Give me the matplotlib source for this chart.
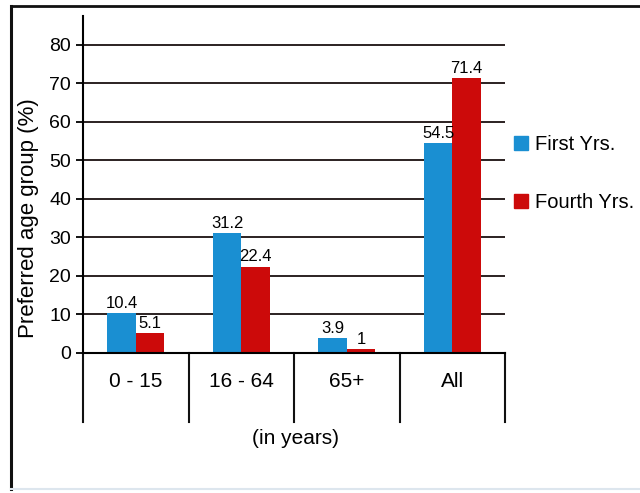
import matplotlib.pyplot as plt
from matplotlib.lines import Line2D
from matplotlib.patches import Patch

plt.rcParams['font.family'] = ['Liberation Sans', 'DejaVu Sans']

categories = ["0 - 15", "16 - 64", "65+", "All"]
first_yrs = [10.4, 31.2, 3.9, 54.5]
fourth_yrs = [5.1, 22.4, 1, 71.4]
series_names = ["First Yrs.", "Fourth Yrs."]
yticks = [0, 10, 20, 30, 40, 50, 60, 70, 80]

BLUE = "#1a8fd2"
RED = "#cc0a0a"

fig = plt.figure(figsize=(6.4, 4.93), dpi=100)
ax = fig.add_axes([0.1297, 0.284, 0.6594, 0.6836])

width = 0.27
x = range(len(categories))
b1 = ax.bar([i - width / 2 for i in x], first_yrs, width, color=BLUE, zorder=3)
b2 = ax.bar([i + width / 2 for i in x], fourth_yrs, width, color=RED, zorder=3)

# value labels on top of each bar
for bars, vals in ((b1, first_yrs), (b2, fourth_yrs)):
  for bar, v in zip(bars, vals):
    ax.text(bar.get_x() + bar.get_width() / 2, v + 0.6, f"{v:g}",
            ha='center', va='bottom', fontsize=12, zorder=4)

ax.set_xlim(-0.5, len(categories) - 0.5)
ax.set_ylim(0, 87.5)
ax.set_yticks(yticks)
ax.tick_params(axis='y', length=5, width=1.3, pad=3.5, labelsize=14)
ax.set_xticks(list(x))
ax.set_xticklabels(categories)
ax.tick_params(axis='x', length=0, pad=14, labelsize=15)

# horizontal grid
for y in yticks[1:]:
  ax.axhline(y, color="#1a1010", lw=1.3, zorder=1)

for side in ("top", "right"):
  ax.spines[side].set_visible(False)
for side in ("left", "bottom"):
  ax.spines[side].set_linewidth(1.5)
  ax.spines[side].set_zorder(4)

# category dividers below the axis
trans = ax.get_xaxis_transform()
for xd in [i - 0.5 for i in range(len(categories) + 1)]:
  ax.plot([xd, xd], [0, -0.205], transform=trans, color="#111111",
          lw=1.5, clip_on=False)

fig.text(29 / 640, 1 - 218 / 493, "Preferred age group (%)", rotation=90,
         ha='center', va='center', fontsize=16)
fig.text(296 / 640, 1 - 438 / 493, "(in years)", ha='center', va='center',
         fontsize=15)

handles = [Patch(color=BLUE), Patch(color=RED)]
fig.legend(handles, series_names, loc='upper left',
           bbox_to_anchor=(514 / 640, 1 - 135 / 493), frameon=False,
           borderpad=0, borderaxespad=0,
           fontsize=14.5, handlelength=0.7, handleheight=0.7,
           handletextpad=0.35, labelspacing=1.95)

# outer frame
fig.add_artist(Line2D([10.5 / 640, 10.5 / 640], [1 - 5.5 / 493, 1 - 489 / 493],
                      color="#111111", lw=2.2))
fig.add_artist(Line2D([10.5 / 640, 1], [1 - 5.5 / 493, 1 - 5.5 / 493],
                      color="#111111", lw=2.0))
fig.add_artist(Line2D([10.5 / 640, 1], [1 - 489 / 493, 1 - 489 / 493],
                      color="#dde6ee", lw=1.5))

fig.savefig("out.png", dpi=100)
